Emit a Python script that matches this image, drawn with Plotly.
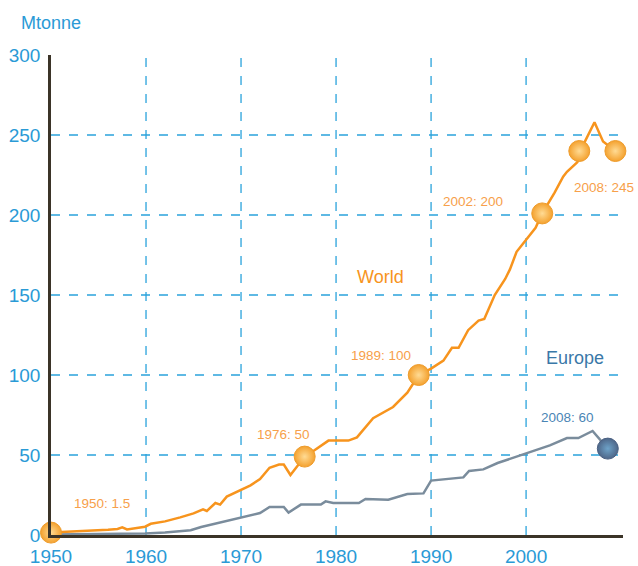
import plotly.graph_objects as go

# ---- data ----
world_years = [1950, 1952, 1954, 1956, 1957, 1957.5, 1958, 1959, 1959.9, 1960.5, 1962, 1963.6, 1965,
               1966, 1966.4, 1967.3, 1967.8, 1968.5, 1970, 1971, 1972, 1973, 1974, 1974.5, 1975.2,
               1976.7, 1977.5, 1979.2, 1981.3, 1982.2, 1983.9, 1986, 1987.5, 1988.7, 1990, 1991.3,
               1992.2, 1992.9, 1993.9, 1995, 1995.6, 1996.7, 1997.8, 1998.3, 1999, 1999.9, 2001,
               2001.7, 2003, 2003.9, 2004.3, 2005.4, 2005.6, 2006.2, 2007.2, 2008.1, 2009.4]
world_vals = [1.5, 2, 2.5, 3.3, 3.8, 4.8, 3.5, 4.5, 5.2, 7, 8.5, 11, 13.5,
              16, 15, 20, 19, 24, 28, 31, 35, 42, 44, 44, 37.5,
              49, 52, 59, 59, 61, 73, 80, 89, 100, 104, 109,
              117, 117, 128, 134, 135, 150, 160, 166, 177, 184, 192,
              201, 214, 224, 227, 233, 240, 246, 258, 246, 240]

europe_years = [1950, 1955, 1959.9, 1962, 1964.7, 1965.8, 1970, 1972, 1973, 1974.5, 1975, 1976.3,
                1978.4, 1978.9, 1979.7, 1982.4, 1983.1, 1985.5, 1987.5, 1989.2, 1990, 1992, 1993.4,
                1994, 1995.5, 1997, 1998.5, 1999.9, 2002.5, 2004.3, 2005.5, 2007, 2008.6]
europe_vals = [0.3, 0.5, 1, 1.5, 3, 5, 10.6, 13.7, 17.5, 17.5, 14, 19,
               19, 21, 20, 20, 22.5, 22, 25.6, 26, 34, 35, 36,
               40, 41, 45, 48, 51, 56, 60.6, 60.6, 65, 54]

world_marker_years = [1950, 1976.7, 1988.7, 2001.7, 2005.6, 2009.4]
world_marker_vals = [1.5, 49, 100, 201, 240, 240]
europe_marker_years = [2008.6]
europe_marker_vals = [54]

x_ticks = [1950, 1960, 1970, 1980, 1990, 2000]
y_ticks = [0, 50, 100, 150, 200, 250, 300]

world_labels = ["1950: 1.5", "1976: 50", "1989: 100", "2002: 200"]
world_label_pos = [(1955.4, 19.4), (1974.5, 63), (1984.7, 112.5), (1994.4, 208.75)]

ORANGE = "#f7941d"
ORANGE_TXT = "#f7a04a"
GRAY = "#7a8c9c"
BLUE = "#2a9ad6"
GRID = "#2aa3dc"
AXIS = "#3b3428"
FONT = "Liberation Sans, Arial, sans-serif"

fig = go.Figure()

fig.add_trace(go.Scatter(x=europe_years, y=europe_vals, mode="lines",
                         line=dict(color=GRAY, width=2.5), cliponaxis=False, hoverinfo="skip"))
fig.add_trace(go.Scatter(x=world_years, y=world_vals, mode="lines",
                         line=dict(color=ORANGE, width=2.5), cliponaxis=False, hoverinfo="skip"))
fig.add_trace(go.Scatter(x=world_marker_years, y=world_marker_vals, mode="markers",
                         marker=dict(size=21, color="#f4a12e",
                                     gradient=dict(type="radial", color="#ffdb94"),
                                     line=dict(width=1, color="#ee9c2c")),
                         cliponaxis=False, hoverinfo="skip"))
fig.add_trace(go.Scatter(x=europe_marker_years, y=europe_marker_vals, mode="markers",
                         marker=dict(size=21, color="#4e6688",
                                     gradient=dict(type="radial", color="#6ea3c9"),
                                     line=dict(width=1, color="#4a6082")),
                         cliponaxis=False, hoverinfo="skip"))

shapes = []
for xv in x_ticks[1:]:
    shapes.append(dict(type="line", xref="x", yref="y", x0=xv, x1=xv, y0=0, y1=y_ticks[-1] + 2,
                       line=dict(color=GRID, width=1.3, dash="dash"), layer="below"))
for yv in y_ticks[1:-1]:
    shapes.append(dict(type="line", xref="paper", yref="y", x0=0, x1=1, y0=yv, y1=yv,
                       line=dict(color=GRID, width=1.3, dash="dash"), layer="below"))

annotations = []
for txt, (ax, ay) in zip(world_labels, world_label_pos):
    annotations.append(dict(x=ax, y=ay, text=txt, showarrow=False,
                            font=dict(family=FONT, size=13.5, color=ORANGE_TXT)))
annotations.append(dict(xref="paper", yref="y", x=1.0227, y=217.5, text="2008: 245", showarrow=False,
                        xanchor="right", font=dict(family=FONT, size=13.5, color=ORANGE_TXT)))
annotations.append(dict(x=1984.7, y=161, text="World", showarrow=False,
                        font=dict(family=FONT, size=18, color=ORANGE)))
annotations.append(dict(x=2005.1, y=110.6, text="Europe", showarrow=False,
                        font=dict(family=FONT, size=18, color="#3a78a8")))
annotations.append(dict(x=2004.4, y=73.75, text="2008: 60", showarrow=False,
                        font=dict(family=FONT, size=13.5, color="#4a85b5")))
annotations.append(dict(xref="paper", yref="paper", x=0, y=1.0667, text="Mtonne", showarrow=False,
                        xanchor="center", yanchor="middle",
                        font=dict(family=FONT, size=18, color=BLUE)))

fig.update_layout(
    width=638, height=566,
    margin=dict(l=51, r=15, t=55, b=31),
    paper_bgcolor="white", plot_bgcolor="white",
    showlegend=False,
    shapes=shapes, annotations=annotations,
    xaxis=dict(range=[1950, 2010.2], tickvals=x_ticks, ticktext=[str(v) for v in x_ticks],
               showgrid=False, zeroline=False, showline=True, linecolor=AXIS, linewidth=2.5,
               automargin=False,
               ticks="", tickfont=dict(family=FONT, size=19, color=BLUE), ticklabelstandoff=2),
    yaxis=dict(range=[0, 300], tickvals=y_ticks, ticktext=[str(v) for v in y_ticks],
               showgrid=False, zeroline=False, showline=True, linecolor=AXIS, linewidth=2.5,
               automargin=False,
               ticks="", tickfont=dict(family=FONT, size=19, color=BLUE), ticklabelstandoff=4),
)

fig.write_html("out.html", config={"displayModeBar": False},
               post_script="document.body.style.margin='0';document.body.style.overflow='hidden';")
